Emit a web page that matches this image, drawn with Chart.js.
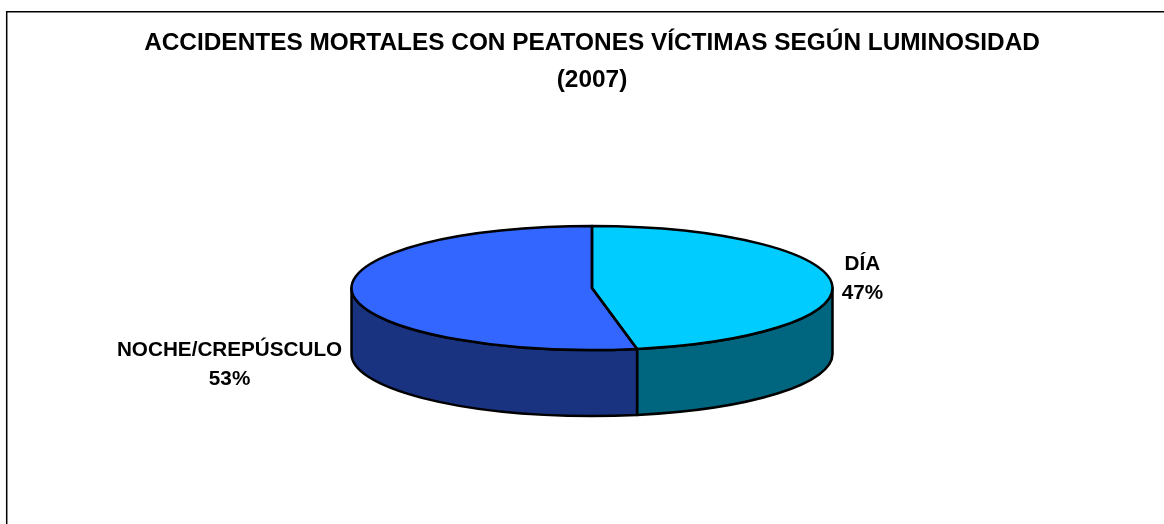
<!DOCTYPE html>
<html lang="es">
<head>
<meta charset="utf-8">
<title>Accidentes mortales con peatones víctimas según luminosidad</title>
<script src="https://cdn.jsdelivr.net/npm/chart.js@4"></script>
<style>
html,body{margin:0;padding:0;background:#fff;overflow:hidden}
#wrap{position:relative;width:1164px;height:524px}
canvas{display:block}
</style>
</head>
<body>
<div id="wrap"><canvas id="c" width="1164" height="524"></canvas></div>
<script>
const titleLines = ['ACCIDENTES MORTALES CON PEATONES VÍCTIMAS SEGÚN LUMINOSIDAD', '(2007)'];
const categories = ['DÍA', 'NOCHE/CREPÚSCULO'];
const shares = [47, 53];
const topColours = ['#00CCFF', '#3366FF'];
const sideColours = ['#006680', '#1A3380'];

const FONT = '"Liberation Sans", Arial, sans-serif';
const TILT = 62 / 240.5;
const DEPTH = 66;
const LINE = 2.5;
const labelOffsets = [[31, -3], [-123, 71]];

const pie3d = {
  id: 'pie3d',
  beforeDraw(chart) {
    const c = chart.ctx;
    c.save();
    c.fillStyle = '#fff';
    c.fillRect(0, 0, chart.width, chart.height);
    c.strokeStyle = '#000';
    c.lineWidth = 1.5;
    c.beginPath();
    c.moveTo(6.7, chart.height + 2);
    c.lineTo(6.7, 11.7);
    c.lineTo(chart.width + 2, 11.7);
    c.stroke();
    c.restore();
  },
  beforeDatasetsDraw(chart) {
    const c = chart.ctx;
    const arcs = chart.getDatasetMeta(0).data;
    c.save();
    c.lineWidth = LINE;
    c.strokeStyle = '#000';
    c.lineJoin = 'round';
    arcs.forEach((a, i) => {
      const s = Math.max(a.startAngle, 0);
      const e = Math.min(a.endAngle, Math.PI);
      if (e <= s) return;
      const r = a.outerRadius, ry = r * TILT;
      c.beginPath();
      c.ellipse(a.x, a.y, r, ry, 0, s, e);
      c.ellipse(a.x, a.y + DEPTH, r, ry, 0, e, s, true);
      c.closePath();
      c.fillStyle = sideColours[i];
      c.fill();
      c.stroke();
    });
    c.restore();
  },
  beforeDatasetDraw(chart) {
    const c = chart.ctx;
    const a = chart.getDatasetMeta(0).data[0];
    c.save();
    c.translate(a.x, a.y);
    c.scale(1, TILT);
    c.translate(-a.x, -a.y);
  },
  afterDatasetDraw(chart) {
    chart.ctx.restore();
  },
  afterDatasetsDraw(chart) {
    const c = chart.ctx;
    const arcs = chart.getDatasetMeta(0).data;
    c.save();
    c.lineWidth = LINE;
    c.strokeStyle = '#000';
    c.lineJoin = 'round';
    arcs.forEach(a => {
      const r = a.outerRadius, ry = r * TILT;
      c.beginPath();
      c.moveTo(a.x, a.y);
      c.ellipse(a.x, a.y, r, ry, 0, a.startAngle, a.endAngle);
      c.closePath();
      c.stroke();
    });
    c.fillStyle = '#000';
    c.font = 'bold 20.7px ' + FONT;
    c.textAlign = 'center';
    c.textBaseline = 'middle';
    arcs.forEach((a, i) => {
      const mid = (a.startAngle + a.endAngle) / 2;
      const r = a.outerRadius, ry = r * TILT;
      const x = a.x + Math.cos(mid) * r + labelOffsets[i][0];
      const y = a.y + Math.sin(mid) * ry + labelOffsets[i][1];
      c.fillText(categories[i], x, y - 14.5);
      c.fillText(shares[i] + '%', x, y + 14.5);
    });
    c.restore();
  }
};

new Chart(document.getElementById('c'), {
  type: 'pie',
  data: {
    labels: categories,
    datasets: [{
      data: shares,
      backgroundColor: topColours,
      borderWidth: 0,
      radius: 240.5
    }]
  },
  options: {
    responsive: false,
    animation: false,
    events: [],
    layout: { padding: { left: 20, right: 0, top: 0, bottom: 48 } },
    plugins: {
      legend: { display: false },
      tooltip: { enabled: false },
      title: {
        display: true,
        text: titleLines,
        color: '#000',
        font: { family: FONT, size: 24.4, weight: 'bold', lineHeight: '37px' },
        padding: { top: 25, bottom: 1 }
      }
    }
  },
  plugins: [pie3d]
});
</script>
</body>
</html>
